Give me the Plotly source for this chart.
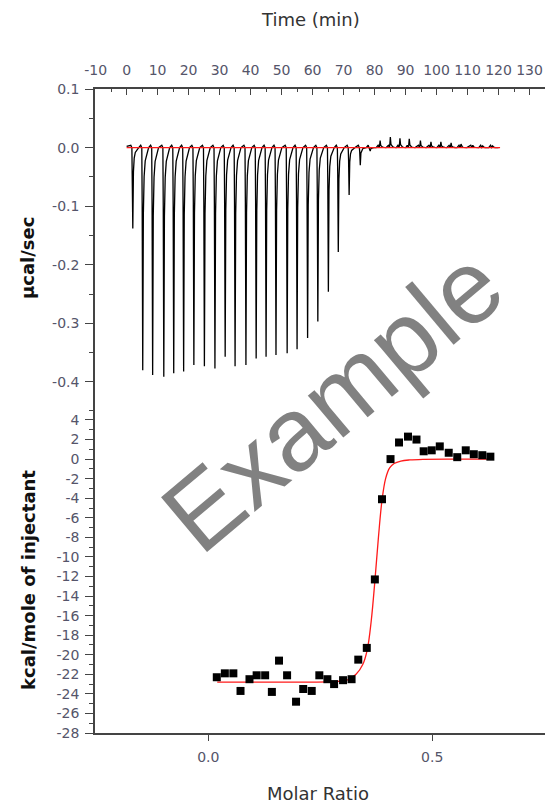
import plotly.graph_objects as go

# ---------------- data ----------------
# Raw ITC thermogram: injection times (min) and peak heat rate (µcal/sec)
INJ_TIMES = [1.7, 4.9, 8.1, 11.7, 14.9, 18.1, 21.4, 24.8, 28.2, 31.5,
             34.7, 38.2, 41.5, 44.7, 47.9, 51.5, 54.7, 58.1, 61.4, 64.8,
             68.0, 71.5, 75.1, 78.3, 81.5, 84.8, 87.9, 90.9, 94.5, 97.9,
             101.1, 104.4, 107.6, 111.4, 114.6, 117.8]
PEAK_VALUES = [-0.138, -0.380, -0.388, -0.391, -0.385, -0.382, -0.371, -0.373, -0.377, -0.357,
               -0.373, -0.371, -0.360, -0.357, -0.354, -0.351, -0.344, -0.325, -0.297, -0.246,
               -0.178, -0.081, -0.030, -0.006, 0.012, 0.018, 0.016, 0.015, 0.012, 0.010,
               0.010, 0.008, 0.006, 0.004, 0.003, 0.003]
# shape of one injection peak (time offset in min, fraction of peak value)
PROFILE_DT = [0.0, 0.12, 0.30, 0.50, 0.75, 1.10, 1.60, 2.20]
PROFILE_FRAC = [0.0, 0.25, 1.0, 0.30, 0.13, 0.06, 0.025, 0.0]
PRE_BLIP = 0.004
BASELINE_T = [0.0, 120.5]
BASELINE_V = [0.0, 0.0]

# Integrated heats
MOLAR_RATIO = [0.019, 0.037, 0.056, 0.072, 0.092, 0.108, 0.127, 0.142, 0.158, 0.176,
               0.196, 0.212, 0.231, 0.248, 0.266, 0.281, 0.301, 0.320, 0.335, 0.354,
               0.372, 0.388, 0.407, 0.426, 0.446, 0.465, 0.481, 0.499, 0.517, 0.537,
               0.556, 0.575, 0.593, 0.612, 0.630]
HEAT = [-22.3, -21.9, -21.9, -23.7, -22.5, -22.1, -22.1, -23.8, -20.6, -22.1,
        -24.8, -23.5, -23.7, -22.1, -22.5, -23.0, -22.6, -22.5, -20.5, -19.3,
        -12.3, -4.1, 0.0, 1.7, 2.3, 2.0, 0.8, 0.9, 1.3, 0.65,
        0.2, 0.9, 0.5, 0.4, 0.25]
FIT_X = [0.02, 0.10, 0.20, 0.28, 0.31, 0.33, 0.345, 0.355, 0.364, 0.372,
         0.380, 0.388, 0.396, 0.405, 0.415, 0.43, 0.45, 0.48, 0.55, 0.63]
FIT_Y = [-22.8, -22.8, -22.8, -22.75, -22.6, -22.0, -21.0, -19.5, -16.5, -12.5,
         -8.0, -4.2, -2.0, -0.9, -0.45, -0.2, -0.08, -0.02, 0.0, 0.0]

TOP_X_TICKS = [-10, 0, 10, 20, 30, 40, 50, 60, 70, 80, 90, 100, 110, 120, 130]
TOP_X_LABELS = ["-10", "0", "10", "20", "30", "40", "50", "60", "70", "80", "90", "100", "110", "120", "130"]
TOP_Y_TICKS = [0.1, 0.0, -0.1, -0.2, -0.3, -0.4]
TOP_Y_LABELS = ["0.1", "0.0", "-0.1", "-0.2", "-0.3", "-0.4"]
BOT_Y_TICKS = list(range(4, -29, -2))
BOT_Y_LABELS = [str(v) for v in BOT_Y_TICKS]
BOT_X_TICKS = [0.0, 0.5]
BOT_X_LABELS = ["0.0", "0.5"]

# ---------------- build thermogram line ----------------
tx, ty = [0.0], [0.002]
for t0, v in zip(INJ_TIMES, PEAK_VALUES):
    tx.append(t0 - 0.35)
    ty.append(PRE_BLIP)
    for dt, f in zip(PROFILE_DT, PROFILE_FRAC):
        tx.append(t0 + dt)
        ty.append(v * f)
tx.append(120.0)
ty.append(0.0)

# ---------------- figure ----------------
L, R, T, B = 95, 0, 89, 71
W, H = 545, 804
PW, PH = W - L - R, H - T - B
split = (733 - 406) / PH

def px(xp):
    return (xp - L) / PW

def py(yp):
    return (H - B - yp) / PH

fig = go.Figure()
fig.add_trace(go.Scatter(x=tx, y=ty, xaxis="x2", yaxis="y2", mode="lines",
                         line=dict(color="black", width=1.3), showlegend=False))
fig.add_trace(go.Scatter(x=BASELINE_T, y=BASELINE_V, xaxis="x2", yaxis="y2", mode="lines",
                         line=dict(color="#ff1a1a", width=1.3), showlegend=False))
fig.add_trace(go.Scatter(x=FIT_X, y=FIT_Y, xaxis="x", yaxis="y", mode="lines",
                         line=dict(color="#ff1a1a", width=1.3, shape="spline"), showlegend=False))
fig.add_trace(go.Scatter(x=MOLAR_RATIO, y=HEAT, xaxis="x", yaxis="y", mode="markers",
                         marker=dict(symbol="square", size=8, color="black"), showlegend=False))

tickfont = dict(family="DejaVu Sans", size=14, color="#55556a")
axcol = "#444444"

fig.update_layout(
    width=W, height=H,
    margin=dict(l=L, r=R, t=T, b=B),
    paper_bgcolor="white", plot_bgcolor="white",
    showlegend=False,
    xaxis=dict(domain=[0, 1], anchor="y", range=[-0.253, 0.752],
               tickvals=BOT_X_TICKS, ticktext=BOT_X_LABELS, ticks="outside", ticklen=6,
               tickcolor=axcol, showline=True, linecolor=axcol, linewidth=1.5,
               ticklabelstandoff=4,
               showgrid=False, zeroline=False, tickfont=tickfont),
    xaxis3=dict(overlaying="x", anchor="y", side="top", range=[-0.253, 0.752],
                tickvals=BOT_X_TICKS, ticks="inside", ticklen=6, tickcolor=axcol,
                showticklabels=False, showline=True, linecolor=axcol, linewidth=1.5,
                showgrid=False, zeroline=False),
    yaxis=dict(domain=[0, split], anchor="x", range=[-28, 5.43],
               tickvals=BOT_Y_TICKS, ticktext=BOT_Y_LABELS, ticks="outside", ticklen=8,
               tickcolor=axcol, showline=True, linecolor=axcol, linewidth=1.5,
               minor=dict(ticks="outside", ticklen=4, dtick=1, tickcolor=axcol),
               ticklabelstandoff=3,
               showgrid=False, zeroline=False, tickfont=tickfont),
    xaxis2=dict(domain=[0, 1], anchor="y2", side="top", range=[-10.2, 135.0],
                tickvals=TOP_X_TICKS, ticktext=TOP_X_LABELS, ticks="inside", ticklen=6,
                tickcolor=axcol, showline=True, linecolor=axcol, linewidth=1.5,
                minor=dict(ticks="inside", ticklen=3, dtick=5, tickcolor=axcol),
                ticklabelstandoff=7,
                showgrid=False, zeroline=False, tickfont=tickfont),
    yaxis2=dict(domain=[split, 1], anchor="x2", range=[-0.441, 0.1],
                tickvals=TOP_Y_TICKS, ticktext=TOP_Y_LABELS, ticks="outside", ticklen=8,
                tickcolor=axcol, showline=True, linecolor=axcol, linewidth=1.5,
                minor=dict(ticks="outside", ticklen=4, dtick=0.05, tickcolor=axcol),
                ticklabelstandoff=3,
                showgrid=False, zeroline=False, tickfont=tickfont),
)

title_font = dict(family="DejaVu Sans", size=18, color="#333333")
ytitle_font = dict(family="DejaVu Sans", size=18, color="#111111")
annots = [
    dict(text="Time (min)", x=px(310), y=py(20), font=title_font),
    dict(text="Molar Ratio", x=px(318), y=py(793), font=title_font),
    dict(text="<b>µcal/sec</b>", x=px(27), y=py(258), font=ytitle_font, textangle=-90),
    dict(text="<b>kcal/mole of injectant</b>", x=px(28), y=py(580), font=ytitle_font, textangle=-90),
    dict(text="Example", x=px(332), y=py(400),
         font=dict(family="Liberation Sans", size=104, color="rgba(115,115,115,0.9)"), textangle=-40),
]
for a in annots:
    fig.add_annotation(xref="paper", yref="paper", showarrow=False,
                       xanchor="center", yanchor="middle", **a)

fig.write_html("out.html",
               config={"displayModeBar": False},
               post_script="document.body.style.margin='0px';document.body.style.overflow='hidden';")
